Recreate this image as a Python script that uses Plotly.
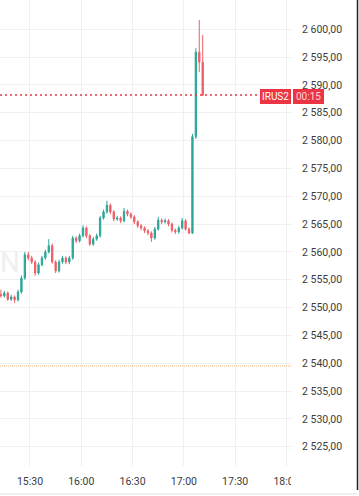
import pandas as pd
import plotly.graph_objects as go

# 2-minute candles starting 15:13
times = pd.date_range("2024-01-01 15:13", periods=60, freq="2min")

opens = [2552.4, 2552.1, 2552.6, 2551.5, 2551.9, 2551.4, 2552.8, 2555.3, 2559.5, 2558.9,
         2558.2, 2556.2, 2557.7, 2558.9, 2560.0, 2561.1, 2558.2, 2556.6, 2558.2, 2558.9,
         2558.2, 2558.9, 2562.5, 2562.0, 2562.9, 2564.3, 2562.9, 2561.4, 2562.3, 2562.9,
         2566.1, 2567.2, 2568.4, 2567.2, 2565.9, 2566.1, 2565.6, 2567.3, 2566.8, 2566.3,
         2565.4, 2564.7, 2564.3, 2563.8, 2563.4, 2562.5, 2564.1, 2565.7, 2565.4, 2565.6,
         2565.0, 2563.9, 2563.6, 2564.3, 2565.6, 2564.1, 2563.4, 2580.7, 2595.9, 2594.1]
highs = [2553.2, 2553.0, 2552.9, 2552.3, 2552.2, 2553.2, 2555.8, 2560.0, 2560.0, 2559.3,
         2558.5, 2558.1, 2559.3, 2560.4, 2562.3, 2561.5, 2558.5, 2558.6, 2559.3, 2559.2,
         2559.3, 2562.9, 2562.8, 2563.3, 2564.8, 2564.6, 2563.2, 2562.7, 2563.3, 2566.5,
         2567.6, 2569.2, 2568.7, 2567.5, 2566.5, 2566.4, 2567.9, 2567.6, 2567.1, 2566.6,
         2565.7, 2565.0, 2564.6, 2564.1, 2563.7, 2564.5, 2566.3, 2566.0, 2566.0, 2565.9,
         2565.3, 2564.2, 2564.7, 2566.1, 2565.9, 2564.4, 2581.2, 2596.6, 2601.7, 2599.0]
lows = [2551.8, 2551.8, 2551.2, 2551.2, 2550.8, 2551.1, 2552.5, 2555.0, 2558.5, 2557.8,
        2555.7, 2555.9, 2557.4, 2558.6, 2559.7, 2557.9, 2556.2, 2556.3, 2557.9, 2557.8,
        2557.8, 2558.6, 2561.6, 2561.7, 2562.6, 2562.5, 2561.1, 2561.1, 2562.0, 2562.6,
        2565.8, 2566.9, 2566.8, 2565.5, 2565.6, 2565.2, 2565.3, 2566.4, 2565.9, 2565.0,
        2564.3, 2563.9, 2563.4, 2563.0, 2561.8, 2562.2, 2563.8, 2565.0, 2565.1, 2564.6,
        2563.5, 2563.2, 2563.3, 2564.0, 2563.8, 2563.2, 2563.2, 2580.3, 2592.3, 2588.0]
closes = [2552.1, 2552.6, 2551.5, 2551.9, 2551.4, 2552.8, 2555.3, 2559.5, 2558.9, 2558.2,
          2556.2, 2557.7, 2558.9, 2560.0, 2561.1, 2558.2, 2556.6, 2558.2, 2558.9, 2558.2,
          2558.9, 2562.5, 2562.0, 2562.9, 2564.3, 2562.9, 2561.4, 2562.3, 2562.9, 2566.1,
          2567.2, 2568.4, 2567.2, 2565.9, 2566.1, 2565.6, 2567.3, 2566.8, 2566.3, 2565.4,
          2564.7, 2564.3, 2563.8, 2563.4, 2562.5, 2564.1, 2565.7, 2565.4, 2565.6, 2565.0,
          2563.9, 2563.6, 2564.3, 2565.6, 2564.1, 2563.4, 2580.7, 2595.9, 2594.1, 2588.2]

y_ticks = [2525, 2530, 2535, 2540, 2545, 2550, 2555, 2560, 2565, 2570, 2575, 2580,
           2585, 2590, 2595, 2600]
last_price = 2588.2
level_price = 2539.5
symbol = "IRUS2"
countdown = "00:15"

UP = "#2aa698"
DOWN = "#ee5f67"
LABEL_RED = "#ec3444"
FONT = "Roboto"
TXT = "#3c3c3c"

fig = go.Figure()
fig.add_trace(go.Candlestick(
    x=times, open=opens, high=highs, low=lows, close=closes,
    increasing=dict(line=dict(color=UP, width=1), fillcolor=UP),
    decreasing=dict(line=dict(color=DOWN, width=1), fillcolor=DOWN),
    whiskerwidth=0, showlegend=False, hoverinfo="skip",
))

shapes = []
# orange level line
shapes.append(dict(type="line", xref="paper", yref="y", x0=0, x1=1,
                   y0=level_price, y1=level_price,
                   line=dict(color="#f2b67c", width=1, dash="1px,1px")))
# last price dotted line
shapes.append(dict(type="line", xref="paper", yref="y", x0=0, x1=258 / 292,
                   y0=last_price, y1=last_price,
                   line=dict(color=LABEL_RED, width=1.5, dash="2px,3px")))
# label boxes
shapes.append(dict(type="rect", xref="paper", yref="paper", layer="above",
                   x0=260 / 292, x1=291 / 292, y0=1 - 104 / 466, y1=1 - 89 / 466,
                   fillcolor=LABEL_RED, line=dict(width=0)))
shapes.append(dict(type="rect", xref="paper", yref="paper", layer="above",
                   x0=293 / 292, x1=324 / 292, y0=1 - 104 / 466, y1=1 - 89 / 466,
                   fillcolor=LABEL_RED, line=dict(width=0)))
# cover to clip the last time label
shapes.append(dict(type="rect", xref="paper", yref="paper", layer="above",
                   x0=291 / 292, x1=356 / 292, y0=-26 / 466, y1=-3 / 466,
                   fillcolor="white", line=dict(width=0)))
# right border and bottom border
shapes.append(dict(type="line", xref="paper", yref="paper", layer="above",
                   x0=357.5 / 292, x1=357.5 / 292, y0=-24 / 466, y1=1,
                   line=dict(color="#222222", width=1.5)))
shapes.append(dict(type="line", xref="paper", yref="paper", layer="above",
                   x0=0, x1=357 / 292, y0=-28 / 466, y1=-28 / 466,
                   line=dict(color="#e0e0e0", width=1)))

annotations = [
    dict(xref="paper", yref="paper", x=275.5 / 292, y=1 - 96.5 / 466, text=symbol,
         showarrow=False, font=dict(family=FONT, size=10, color="white"),
         xanchor="center", yanchor="middle"),
    dict(xref="paper", yref="paper", x=308.5 / 292, y=1 - 96.5 / 466, text=countdown,
         showarrow=False, font=dict(family=FONT, size=10, color="#ffd6da"),
         xanchor="center", yanchor="middle"),
    dict(xref="paper", yref="paper", x=0, y=1 - 262 / 466, text="N",
         showarrow=False, font=dict(family=FONT, size=28, color="#efefef"),
         xanchor="left", yanchor="middle", xshift=-2),
]

fig.update_layout(
    width=359, height=496,
    margin=dict(l=0, r=67, t=0, b=30),
    paper_bgcolor="white", plot_bgcolor="white",
    separators=", ",
    boxgap=0.45,
    shapes=shapes, annotations=annotations,
    font=dict(family=FONT, size=10.5, color=TXT),
    xaxis=dict(
        type="date",
        range=["2024-01-01 15:12:28", "2024-01-01 18:03:13"],
        rangeslider=dict(visible=False),
        tickformat="%H:%M", dtick=30 * 60 * 1000,
        tick0="2024-01-01 15:00",
        showgrid=True, gridcolor="#f0f0f0", gridwidth=1,
        zeroline=False, showline=False, ticks="",
        ticklabelstandoff=7,
        tickfont=dict(family=FONT, size=10.5, color=TXT),
    ),
    yaxis=dict(
        side="right",
        range=[2521.53, 2605.27],
        tickvals=y_ticks, tickformat=",.2f",
        showgrid=True, gridcolor="#f0f0f0", gridwidth=1,
        zeroline=False, showline=False, ticks="",
        ticklabelstandoff=9,
        tickfont=dict(family=FONT, size=10.5, color=TXT),
    ),
)

fig.write_html("out.html")
